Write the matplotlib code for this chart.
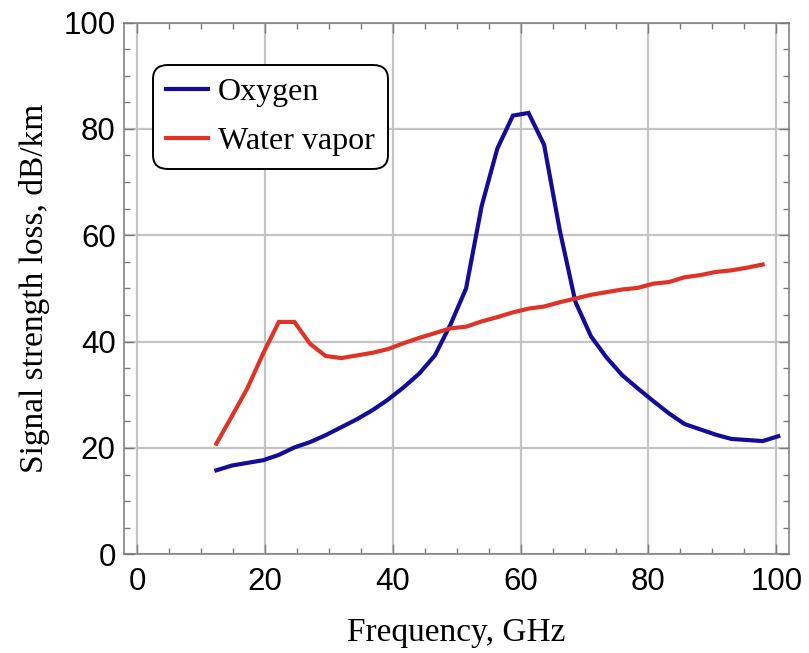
"""Signal strength loss vs frequency for oxygen and water vapor."""

import matplotlib

matplotlib.use("Agg")
import matplotlib.pyplot as plt
from matplotlib.ticker import MultipleLocator

# data
oxygen_freq = [12.40, 14.84, 17.28, 19.73, 22.17, 24.61, 27.05, 29.49, 31.94,
               34.38, 36.82, 39.26, 41.70, 44.15, 46.59, 49.03, 51.47, 53.91,
               56.36, 58.80, 61.24, 63.68, 66.12, 68.57, 71.01, 73.45, 75.89,
               78.33, 80.78, 83.22, 85.66, 88.10, 90.54, 92.99, 95.43, 97.87,
               100.31]
oxygen_loss = [15.8, 16.7, 17.2, 17.7, 18.7, 20.1, 21.1, 22.4, 23.9,
               25.4, 27.1, 29.1, 31.4, 34.0, 37.4, 43.2, 50.0, 65.5,
               76.3, 82.5, 83.0, 77.0, 61.0, 47.5, 41.0, 37.0, 33.7,
               31.2, 28.8, 26.5, 24.5, 23.5, 22.5, 21.7, 21.5, 21.3,
               22.2]

water_freq = oxygen_freq[:-1]
water_loss = [20.8, 26.0, 31.3, 37.8, 43.7, 43.7, 39.6, 37.3, 36.9,
              37.4, 37.9, 38.6, 39.7, 40.7, 41.6, 42.5, 42.8, 43.8,
              44.6, 45.5, 46.2, 46.6, 47.4, 48.1, 48.8, 49.3, 49.8,
              50.1, 50.9, 51.2, 52.1, 52.5, 53.1, 53.4, 53.9, 54.5]

BLUE = "#140c96"
RED = "#de3326"
SERIF = "Liberation Serif"
SANS = "Liberation Sans"

fig = plt.figure(figsize=(8.09, 6.53), dpi=100)
ax = fig.add_axes([0.1533, 0.1511, 0.822, 0.8144])

ax.plot(oxygen_freq, oxygen_loss, color=BLUE, lw=3.0, label="Oxygen",
        solid_joinstyle="miter")
ax.plot(water_freq, water_loss, color=RED, lw=3.0, label="Water vapor",
        solid_joinstyle="miter")

ax.set_xlim(-2.05, 102.0)
ax.set_ylim(0, 100)
ax.xaxis.set_major_locator(MultipleLocator(20))
ax.xaxis.set_minor_locator(MultipleLocator(5))
ax.yaxis.set_major_locator(MultipleLocator(20))
ax.yaxis.set_minor_locator(MultipleLocator(5))
ax.grid(True, which="major", color="#c4c4c4", lw=1.6)
ax.set_axisbelow(True)

for sp in ax.spines.values():
    sp.set_color("#7a7a7a")
    sp.set_linewidth(1.1)
ax.tick_params(which="both", direction="in", top=True, right=True,
               color="#7a7a7a", width=1.0)
ax.tick_params(which="major", length=7, labelsize=22.5, pad=9)
ax.tick_params(which="minor", length=4)
ax.tick_params(axis="y", which="major", pad=6)
for lab in ax.get_xticklabels() + ax.get_yticklabels():
    lab.set_fontfamily(SANS)

ax.set_xlabel("Frequency, GHz", fontsize=24, fontfamily=SERIF, labelpad=15)
ax.set_ylabel("Signal strength loss, dB/km", fontsize=24, fontfamily=SERIF,
              labelpad=10)

leg = ax.legend(loc="upper left", bbox_to_anchor=(0.044, 0.920),
                borderaxespad=0, prop={"family": SERIF, "size": 23},
                handlelength=1.3, handletextpad=0.33, labelspacing=0.62,
                borderpad=0.4, fancybox=True, framealpha=1)
leg.get_frame().set_edgecolor("black")
leg.get_frame().set_linewidth(1.4)
leg.get_frame().set_boxstyle("round", pad=0, rounding_size=0.45)

fig.savefig("out.png", dpi=100)
plt.close(fig)
